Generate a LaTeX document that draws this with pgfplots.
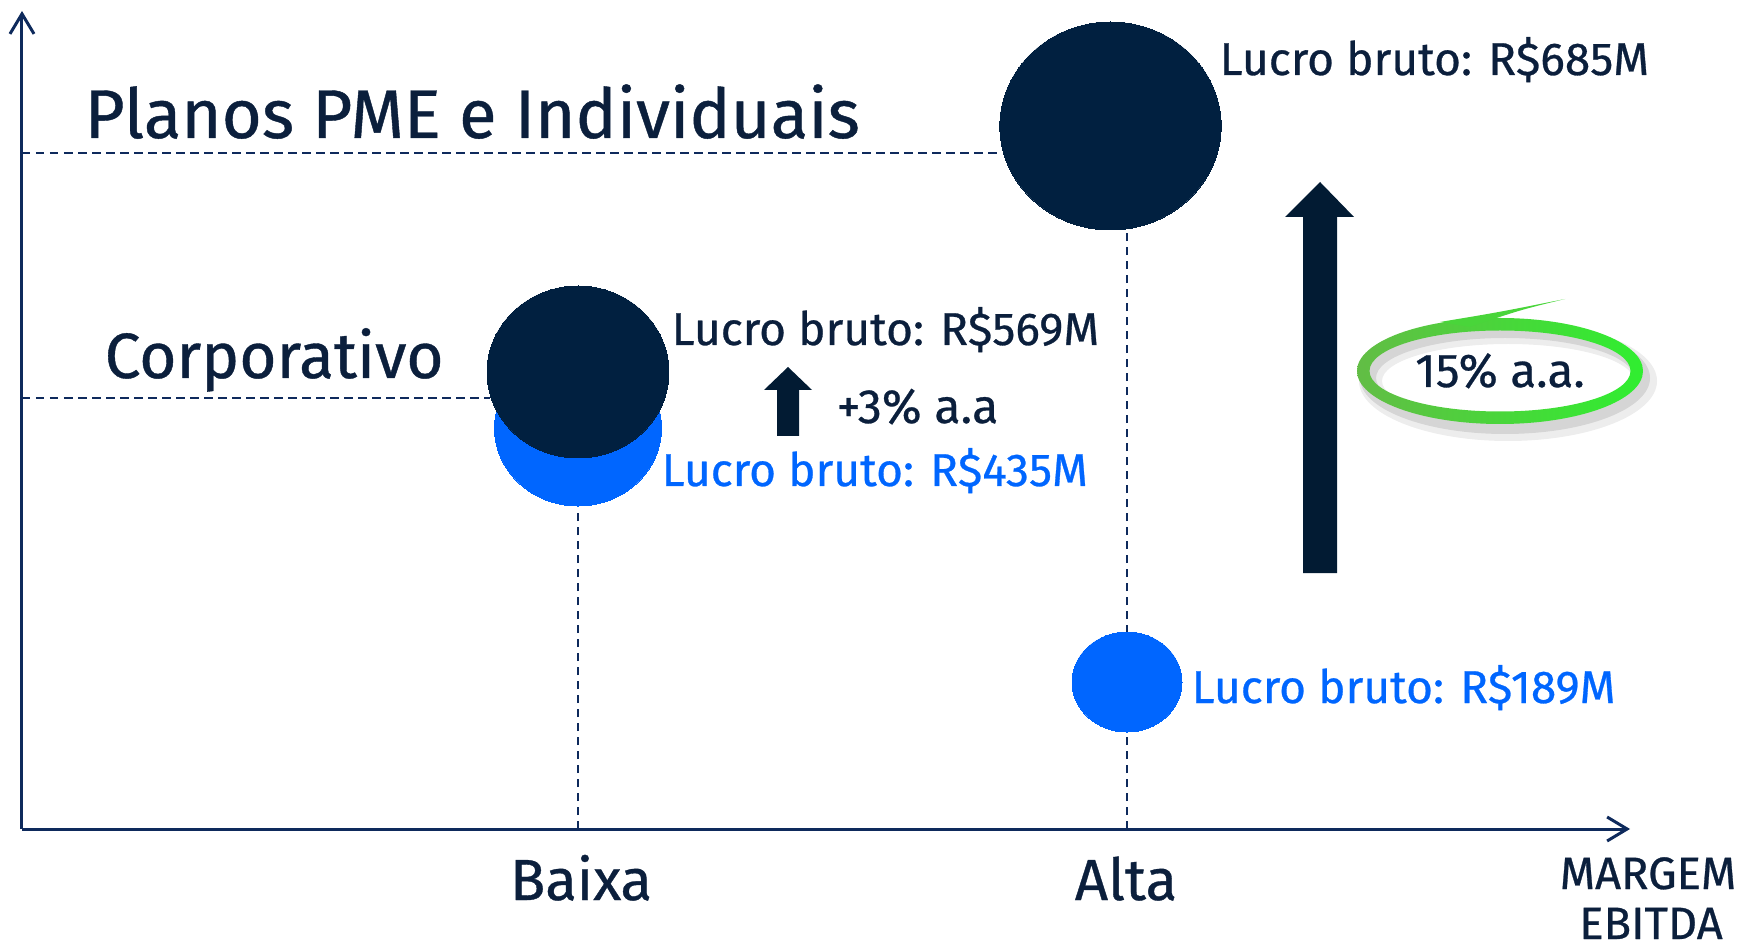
\documentclass[border=0pt]{standalone}
\usepackage{fontspec}
\setmainfont{Fira Sans}[FakeBold=0.6]
\usepackage{pgfplots}
\pgfplotsset{compat=1.18}
\usetikzlibrary{arrows.meta}
\definecolor{navy}{HTML}{012040}
\definecolor{txt}{HTML}{0B1F3C}
\definecolor{axisc}{HTML}{0E2A5C}
\definecolor{arr}{HTML}{021B33}
\definecolor{blu}{HTML}{0066FF}
\definecolor{gl}{HTML}{62BD45}
\definecolor{gr}{HTML}{30EE30}
\begin{document}
\begin{tikzpicture}
\begin{axis}[
  scale only axis, width=160.8mm, height=81.8mm,
  xmin=22, xmax=1630, ymin=120, ymax=938,
  axis lines=left,
  axis line style={draw=axisc, line width=0.3mm, -{Straight Barb[length=2mm,width=2.4mm]}},
  xtick={581,1126}, xticklabels={Baixa,Alta},
  ytick=\empty,
  major tick length=0pt,
  xtick style={draw=none},
  xticklabel style={font=\fontsize{16.5}{20}\selectfont, text=txt, anchor=base, yshift=-7.1mm, inner sep=0pt},
  clip=false,
]
\coordinate (bl) at (axis cs:0,0);
\coordinate (tr) at (axis cs:1744,949);
% guide lines
\addplot[axisc, line width=0.15mm, dash pattern=on 0.85mm off 0.55mm] coordinates {(22,796) (1000,796)};
\addplot[axisc, line width=0.15mm, dash pattern=on 0.85mm off 0.55mm] coordinates {(22,551) (490,551)};
\addplot[axisc, line width=0.15mm, dash pattern=on 0.85mm off 0.55mm] coordinates {(578,120) (578,443)};
\addplot[axisc, line width=0.15mm, dash pattern=on 0.85mm off 0.55mm] coordinates {(1127,120) (1127,719)};
% bubbles
\addplot[only marks, mark=*, color=blu, mark size=7.8mm, mark options={fill=blu, draw=blu, line width=0pt, xscale=1.07}] coordinates {(578,521)};
\addplot[only marks, mark=*, color=navy, mark size=8.6mm, mark options={fill=navy, draw=navy, line width=0pt, xscale=1.058}] coordinates {(578,577)};
\addplot[only marks, mark=*, color=navy, mark size=10.4mm, mark options={fill=navy, draw=navy, line width=0pt, xscale=1.064}] coordinates {(1110.5,823)};
\addplot[only marks, mark=*, color=blu, mark size=5.0mm, mark options={fill=blu, draw=blu, line width=0pt, xscale=1.1}] coordinates {(1127,267)};
% arrows
\fill[arr] (axis cs:777,513) -- (axis cs:777,559) -- (axis cs:764,559) -- (axis cs:788,582) -- (axis cs:812,559) -- (axis cs:799,559) -- (axis cs:799,513) -- cycle;
\fill[arr] (axis cs:1303,376) -- (axis cs:1303,732) -- (axis cs:1285,732) -- (axis cs:1320,767) -- (axis cs:1354,732) -- (axis cs:1337,732) -- (axis cs:1337,376) -- cycle;
% ring
\fill[black, opacity=0.07, even odd rule] (axis cs:1508,568) ellipse [x radius=14.9mm, y radius=6.0mm] (axis cs:1508,568) ellipse [x radius=12.6mm, y radius=3.7mm];
\fill[black, opacity=0.10, even odd rule] (axis cs:1505,571) ellipse [x radius=14.5mm, y radius=5.6mm] (axis cs:1505,571) ellipse [x radius=12.9mm, y radius=4.0mm];
\shade[left color=gl, right color=gr, even odd rule] (axis cs:1500,578) ellipse [x radius=14.3mm, y radius=5.3mm] (axis cs:1500,578) ellipse [x radius=13.05mm, y radius=4.05mm];
\fill[gl!50!gr] (axis cs:1440,627) .. controls (axis cs:1500,637) .. (axis cs:1565,650) .. controls (axis cs:1520,639) .. (axis cs:1470,622) -- cycle;
% texts
\node[anchor=base west, inner sep=0, text=txt, font=\fontsize{19.6}{24}\selectfont] at (axis cs:84,811) {Planos PME e Individuais};
\node[anchor=base west, inner sep=0, text=txt, font=\fontsize{18.2}{22}\selectfont] at (axis cs:104,571) {Corporativo};
\node[anchor=base west, inner sep=0, text=txt, font=\fontsize{13.1}{17}\selectfont] at (axis cs:1219,874) {Lucro bruto: R\$685M};
\node[anchor=base west, inner sep=0, text=txt, font=\fontsize{13.1}{17}\selectfont] at (axis cs:671,604) {Lucro bruto: R\$569M};
\node[anchor=base west, inner sep=0, text=blu, font=\fontsize{13.1}{17}\selectfont] at (axis cs:661,463) {Lucro bruto: R\$435M};
\node[anchor=base west, inner sep=0, text=blu, font=\fontsize{13.1}{17}\selectfont] at (axis cs:1191,246) {Lucro bruto: R\$189M};
\node[anchor=base west, inner sep=0, text=txt, font=\fontsize{13.7}{17}\selectfont] at (axis cs:836,526) {+3\% a.a};
\node[anchor=base, inner sep=0, text=txt, font=\fontsize{13.5}{17}\selectfont] at (axis cs:1500,562) {15\% a.a.};
\node[anchor=base, inner sep=0, text=txt, font=\fontsize{12.9}{15}\selectfont] at (axis cs:1648,60) {MARGEM};
\node[anchor=base, inner sep=0, text=txt, font=\fontsize{12.9}{15}\selectfont] at (axis cs:1651,10) {EBITDA};
\end{axis}
\pgfresetboundingbox
\path[use as bounding box] (bl) rectangle (tr);
\end{tikzpicture}
\end{document}
